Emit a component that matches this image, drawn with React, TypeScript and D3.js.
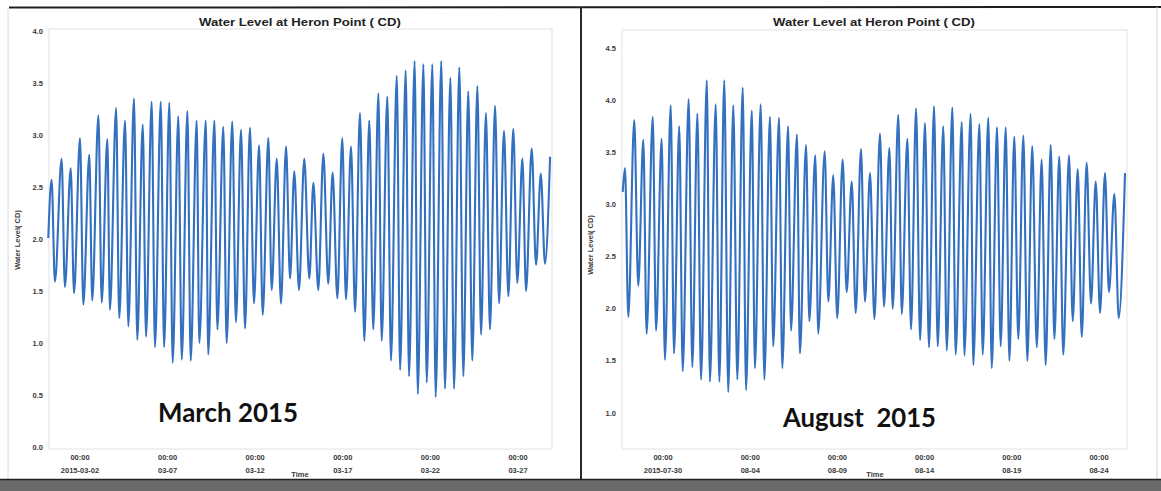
import React from "react";
import * as d3 from "d3";

// ---------- data (days offset from month start, water level in m CD) ----------
const marchBase = Date.UTC(2015, 2, 1);
const marchHighDays = [-0.62, -0.05, 0.47, 1.0, 1.53, 2.05, 2.56, 3.06, 3.57, 4.08, 4.58, 5.09, 5.61, 6.1, 6.61, 7.13, 7.66, 8.18, 8.67, 9.18, 9.69, 10.19, 10.7, 11.22, 11.75, 12.23, 12.76, 13.23, 13.8, 14.32, 14.89, 15.42, 15.97, 16.47, 16.98, 17.51, 18.03, 18.54, 19.08, 19.59, 20.1, 20.6, 21.11, 21.62, 22.14, 22.65, 23.16, 23.68, 24.17, 24.69, 25.2, 25.73, 26.25, 26.78, 27.3];
const marchHighLevels = [2.57, 2.77, 2.68, 2.97, 2.81, 3.19, 2.96, 3.26, 3.14, 3.35, 3.1, 3.32, 3.32, 3.31, 3.18, 3.23, 3.14, 3.14, 3.14, 3.08, 3.13, 3.05, 3.07, 2.9, 2.97, 2.77, 2.89, 2.65, 2.77, 2.54, 2.82, 2.64, 2.97, 2.89, 3.21, 3.14, 3.4, 3.37, 3.57, 3.62, 3.71, 3.68, 3.68, 3.71, 3.55, 3.65, 3.42, 3.47, 3.21, 3.28, 3.04, 3.06, 2.77, 2.87, 2.63];
const marchLowDays = [-0.43, 0.14, 0.66, 1.19, 1.7, 2.24, 2.71, 3.24, 3.76, 4.27, 4.77, 5.28, 5.8, 6.29, 6.81, 7.32, 7.81, 8.32, 8.84, 9.37, 9.9, 10.42, 10.93, 11.43, 11.94, 12.47, 12.99, 13.5, 14.09, 14.6, 15.17, 15.69, 16.18, 16.7, 17.23, 17.74, 18.22, 18.75, 19.27, 19.78, 20.28, 20.79, 21.3, 21.83, 22.35, 22.88, 23.39, 23.89, 24.4, 24.92, 25.45, 25.96, 26.46, 27.03, 27.54];
const marchLowLevels = [1.59, 1.54, 1.48, 1.37, 1.41, 1.39, 1.32, 1.24, 1.16, 1.03, 1.06, 0.96, 0.96, 0.81, 0.84, 0.83, 1.0, 0.89, 1.13, 1.0, 1.2, 1.14, 1.38, 1.27, 1.51, 1.38, 1.62, 1.51, 1.62, 1.51, 1.57, 1.43, 1.42, 1.3, 1.02, 1.13, 1.02, 0.83, 0.74, 0.68, 0.51, 0.62, 0.48, 0.56, 0.56, 0.68, 0.83, 1.08, 1.13, 1.38, 1.45, 1.58, 1.5, 1.75, 1.76];
const marchEdgeDays = [-0.81, 27.83];
const marchEdgeLevels = [2.01, 2.79];
const marchTickDays = [1, 6, 11, 16, 21, 26];
const marchTickLabels = ["2015-03-02", "03-07", "03-12", "03-17", "03-22", "03-27"];
const marchYTicks = [0, 0.5, 1, 1.5, 2, 2.5, 3, 3.5, 4];

const augustBase = Date.UTC(2015, 7, 1);
const augustHighDays = [-4.18, -3.65, -3.13, -2.59, -2.08, -1.56, -1.07, -0.53, -0.03, 0.51, 1.02, 1.51, 2.03, 2.57, 3.09, 3.6, 4.13, 4.65, 5.17, 5.68, 6.2, 6.73, 7.27, 7.76, 8.3, 8.82, 9.35, 9.87, 10.44, 10.98, 11.49, 12.01, 12.51, 13.02, 13.54, 14.07, 14.59, 15.13, 15.64, 16.14, 16.65, 17.15, 17.65, 18.14, 18.66, 19.17, 19.71, 20.23, 20.72, 21.28, 21.78, 22.29, 22.81, 23.34, 23.88];
const augustHighLevels = [3.35, 3.81, 3.62, 3.84, 3.63, 3.95, 3.75, 4.01, 3.87, 4.19, 3.96, 4.19, 3.95, 4.12, 3.9, 3.96, 3.84, 3.83, 3.75, 3.67, 3.57, 3.47, 3.51, 3.28, 3.43, 3.22, 3.53, 3.3, 3.68, 3.54, 3.86, 3.63, 3.92, 3.78, 3.94, 3.75, 3.93, 3.79, 3.87, 3.77, 3.83, 3.74, 3.74, 3.65, 3.66, 3.56, 3.43, 3.57, 3.46, 3.47, 3.34, 3.4, 3.22, 3.3, 3.1];
const augustLowDays = [-3.99, -3.42, -2.94, -2.4, -1.89, -1.37, -0.87, -0.32, 0.18, 0.69, 1.23, 1.74, 2.26, 2.76, 3.27, 3.81, 4.32, 4.84, 5.34, 5.85, 6.39, 6.9, 7.48, 7.99, 8.53, 9.05, 9.58, 10.12, 10.67, 11.17, 11.69, 12.22, 12.74, 13.25, 13.75, 14.27, 14.78, 15.28, 15.79, 16.33, 16.85, 17.36, 17.86, 18.37, 18.89, 19.43, 19.94, 20.44, 20.95, 21.49, 22.01, 22.54, 23.06, 23.57, 24.13];
const augustLowLevels = [1.92, 2.22, 1.76, 1.79, 1.51, 1.57, 1.4, 1.44, 1.32, 1.3, 1.3, 1.2, 1.32, 1.22, 1.43, 1.32, 1.64, 1.43, 1.79, 1.57, 1.88, 1.76, 2.07, 1.91, 2.16, 1.96, 2.07, 1.9, 2.02, 2.0, 1.95, 1.8, 1.7, 1.63, 1.64, 1.6, 1.56, 1.55, 1.46, 1.56, 1.43, 1.64, 1.5, 1.71, 1.5, 1.63, 1.46, 1.71, 1.56, 1.88, 1.73, 2.05, 1.96, 2.16, 1.91];
const augustEdgeDays = [-4.31, 24.49];
const augustEdgeLevels = [3.12, 3.3];
const augustTickDays = [-2, 3, 8, 13, 18, 23];
const augustTickLabels = ["2015-07-30", "08-04", "08-09", "08-14", "08-19", "08-24"];
const augustYTicks = [1, 1.5, 2, 2.5, 3, 3.5, 4, 4.5];

const TITLE = "Water Level at Heron Point ( CD)";
const YLABEL = "Water Level( CD)";
const DAY = 86400000;

type PanelProps = {
  base: number;
  highDays: number[]; highLevels: number[];
  lowDays: number[]; lowLevels: number[];
  edgeDays: number[]; edgeLevels: number[];
  tickDays: number[]; tickLabels: string[];
  yTicks: number[];
  xDomainDays: [number, number];
  yDomain: [number, number];
  left: number; right: number; top: number; bottom: number;
  yRange: [number, number];
  titleX: number; yLabelX: number; yLabelY: number; timeX: number;
  caption: string; captionX: number; captionY: number; captionLen: number;
};

function Panel(p: PanelProps) {
  const x = d3.scaleUtc()
    .domain([new Date(p.base + p.xDomainDays[0] * DAY), new Date(p.base + p.xDomainDays[1] * DAY)])
    .range([p.left, p.right]);
  const y = d3.scaleLinear().domain(p.yDomain).range(p.yRange);
  const pts: { t: Date; v: number }[] = [];
  p.highDays.forEach((d, i) => pts.push({ t: new Date(p.base + d * DAY), v: p.highLevels[i] }));
  p.lowDays.forEach((d, i) => pts.push({ t: new Date(p.base + d * DAY), v: p.lowLevels[i] }));
  p.edgeDays.forEach((d, i) => pts.push({ t: new Date(p.base + d * DAY), v: p.edgeLevels[i] }));
  pts.sort((a, b) => +a.t - +b.t);
  const line = d3.line<{ t: Date; v: number }>()
    .x((d) => x(d.t))
    .y((d) => y(d.v))
    .curve(d3.curveMonotoneX);
  const tickFont = { fontFamily: "Liberation Sans, Arial, sans-serif", fontSize: 7.5, fontWeight: 700, fill: "#3a3a3a" } as const;
  return (
    <g>
      <rect x={p.left} y={p.top} width={p.right - p.left} height={p.bottom - p.top} fill="#fff" stroke="#e2e2e2" strokeWidth={1} />
      <text x={p.titleX} y={26} textAnchor="middle" fontFamily="Liberation Sans, Arial, sans-serif" fontWeight={700} fontSize={10} fill="#222" textLength={202} lengthAdjust="spacingAndGlyphs">{TITLE}</text>
      {p.yTicks.map((t) => (
        <text key={t} x={p.left - 6} y={y(t) + 2.5} textAnchor="end" {...tickFont}>{t.toFixed(1)}</text>
      ))}
      {p.tickDays.map((d, i) => {
        const tx = x(new Date(p.base + d * DAY));
        return (
          <g key={d}>
            <text x={tx} y={460} textAnchor="middle" {...tickFont}>00:00</text>
            <text x={tx} y={473} textAnchor="middle" {...tickFont}>{p.tickLabels[i]}</text>
          </g>
        );
      })}
      <text x={p.timeX} y={477} textAnchor="middle" {...tickFont}>Time</text>
      <text transform={`translate(${p.yLabelX},${p.yLabelY}) rotate(-90)`} textAnchor="middle" {...tickFont}>{YLABEL}</text>
      <path d={line(pts) || ""} fill="none" stroke="#3470c0" strokeWidth={2.1} strokeLinejoin="round" />
      <text x={p.captionX} y={p.captionY} fontFamily="Lato, 'Open Sans', sans-serif" fontWeight={700} fontSize={26} fill="#111" textLength={p.captionLen} lengthAdjust="spacingAndGlyphs" style={{ whiteSpace: "pre" }}>{p.caption}</text>
    </g>
  );
}

export default function App() {
  return (
    <svg width={1161} height={491} style={{ position: "absolute", left: 0, top: 0, background: "#fff" }}>
      <rect x={0} y={0} width={1161} height={491} fill="#fff" />
      <Panel
        base={marchBase}
        highDays={marchHighDays} highLevels={marchHighLevels}
        lowDays={marchLowDays} lowLevels={marchLowLevels}
        edgeDays={marchEdgeDays} edgeLevels={marchEdgeLevels}
        tickDays={marchTickDays} tickLabels={marchTickLabels}
        yTicks={marchYTicks}
        xDomainDays={[-0.769, 27.94]} yDomain={[0, 4]}
        left={49} right={552} top={29} bottom={449} yRange={[447, 31]}
        titleX={300} yLabelX={20} yLabelY={240} timeX={300}
        caption="March 2015" captionX={158} captionY={422} captionLen={140}
      />
      <Panel
        base={augustBase}
        highDays={augustHighDays} highLevels={augustHighLevels}
        lowDays={augustLowDays} lowLevels={augustLowLevels}
        edgeDays={augustEdgeDays} edgeLevels={augustEdgeLevels}
        tickDays={augustTickDays} tickLabels={augustTickLabels}
        yTicks={augustYTicks}
        xDomainDays={[-4.352, 24.604]} yDomain={[1, 4.5]}
        left={622} right={1127} top={30} bottom={449} yRange={[413, 48]}
        titleX={874} yLabelX={593} yLabelY={245} timeX={875}
        caption="August  2015" captionX={783} captionY={427} captionLen={153}
      />
      {/* photo frame lines */}
      <line x1={9} y1={7.5} x2={1161} y2={7} stroke="#1e1e1e" strokeWidth={2} />
      <line x1={8} y1={8} x2={8} y2={480} stroke="#d8d8d8" strokeWidth={1} />
      <line x1={581} y1={7} x2={581} y2={480} stroke="#2a2a2a" strokeWidth={2} />
      <line x1={1157} y1={7} x2={1157} y2={480} stroke="#cfcfcf" strokeWidth={1} />
      <rect x={0} y={479} width={1161} height={12} fill="#6a6a6a" />
      <line x1={0} y1={479.5} x2={1161} y2={479.5} stroke="#222" strokeWidth={1.5} />
    </svg>
  );
}
